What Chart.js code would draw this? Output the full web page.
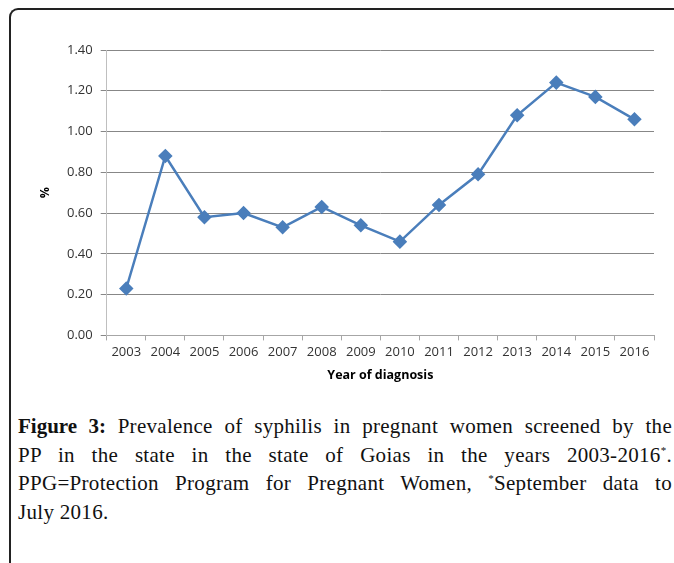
<!DOCTYPE html>
<html>
<head>
<meta charset="utf-8">
<script src="https://cdn.jsdelivr.net/npm/chart.js@4"></script>
<style>
  body { margin: 0; background: #fff; width: 674px; height: 563px; overflow: hidden; position: relative; }
  .frame { position: absolute; left: 9px; top: 8px; width: 700px; height: 600px;
           border-left: 2px solid #222; border-top: 2px solid #222; border-top-left-radius: 9px; }
  .chart-box { position: absolute; left: 0; top: 0; width: 674px; height: 395px; }
  .caption { position: absolute; left: 18px; top: 412px; width: 654px;
             font-family: "Liberation Serif", serif; font-size: 21px; line-height: 28.5px;
             letter-spacing: 0.3px; color: #111; }
  .caption div { text-align: justify; text-align-last: justify; }
  .caption div.last { text-align-last: left; }
  .caption b { font-weight: bold; letter-spacing: 0; }
  .caption sup { font-size: 11px; line-height: 0; vertical-align: 8px; }
</style>
</head>
<body>
<div class="frame"></div>
<div class="chart-box"><canvas id="lineChart"></canvas></div>
<div class="caption">
  <div><b>Figure 3:</b> Prevalence of syphilis in pregnant women screened by the</div>
  <div>PP in the state in the state of Goias in the years 2003-2016<sup>*</sup>.</div>
  <div>PPG=Protection Program for Pregnant Women, <sup>*</sup>September data to</div>
  <div class="last">July 2016.</div>
</div>
<script>
// Prevalence of syphilis (%)
const years = ['2003', '2004', '2005', '2006', '2007', '2008', '2009', '2010', '2011', '2012', '2013', '2014', '2015', '2016'];
const prevalence = [0.23, 0.88, 0.58, 0.60, 0.53, 0.63, 0.54, 0.46, 0.64, 0.79, 1.08, 1.24, 1.17, 1.06];

const tickFont = { family: 'Open Sans', size: 13 };
const titleFont = { family: 'Open Sans', size: 12.5, weight: 'bold' };

const ctx = document.getElementById('lineChart').getContext('2d');
new Chart(ctx, {
  type: 'line',
  data: {
    labels: years,
    datasets: [{
      data: prevalence,
      borderColor: '#4a7ebb',
      backgroundColor: '#4a7ebb',
      borderWidth: 2.5,
      pointStyle: 'rectRot',
      pointRadius: 5.5,
      pointHoverRadius: 5.5,
      tension: 0
    }]
  },
  options: {
    responsive: true,
    maintainAspectRatio: false,
    animation: false,
    layout: { padding: { left: 34, right: 20, top: 50, bottom: 8 } },
    plugins: {
      legend: { display: false },
      tooltip: { enabled: false }
    },
    scales: {
      x: {
        offset: true,
        grid: { offset: true, drawOnChartArea: false, drawTicks: true, tickLength: 5, color: '#a6a6a6' },
        border: { color: '#a6a6a6' },
        ticks: { color: '#333', font: tickFont, maxRotation: 0, padding: 4 },
        title: { display: true, text: 'Year of diagnosis', color: '#000', font: titleFont, padding: { top: 4 } }
      },
      y: {
        min: 0,
        max: 1.4,
        ticks: { stepSize: 0.2, color: '#333', font: tickFont, padding: 8,
                 callback: v => v.toFixed(2) },
        grid: { color: '#878787', tickLength: 6 },
        border: { color: '#bfbfbf' },
        title: { display: true, text: '%', color: '#000', font: titleFont, padding: { bottom: 6 } }
      }
    }
  }
});
</script>
</body>
</html>
